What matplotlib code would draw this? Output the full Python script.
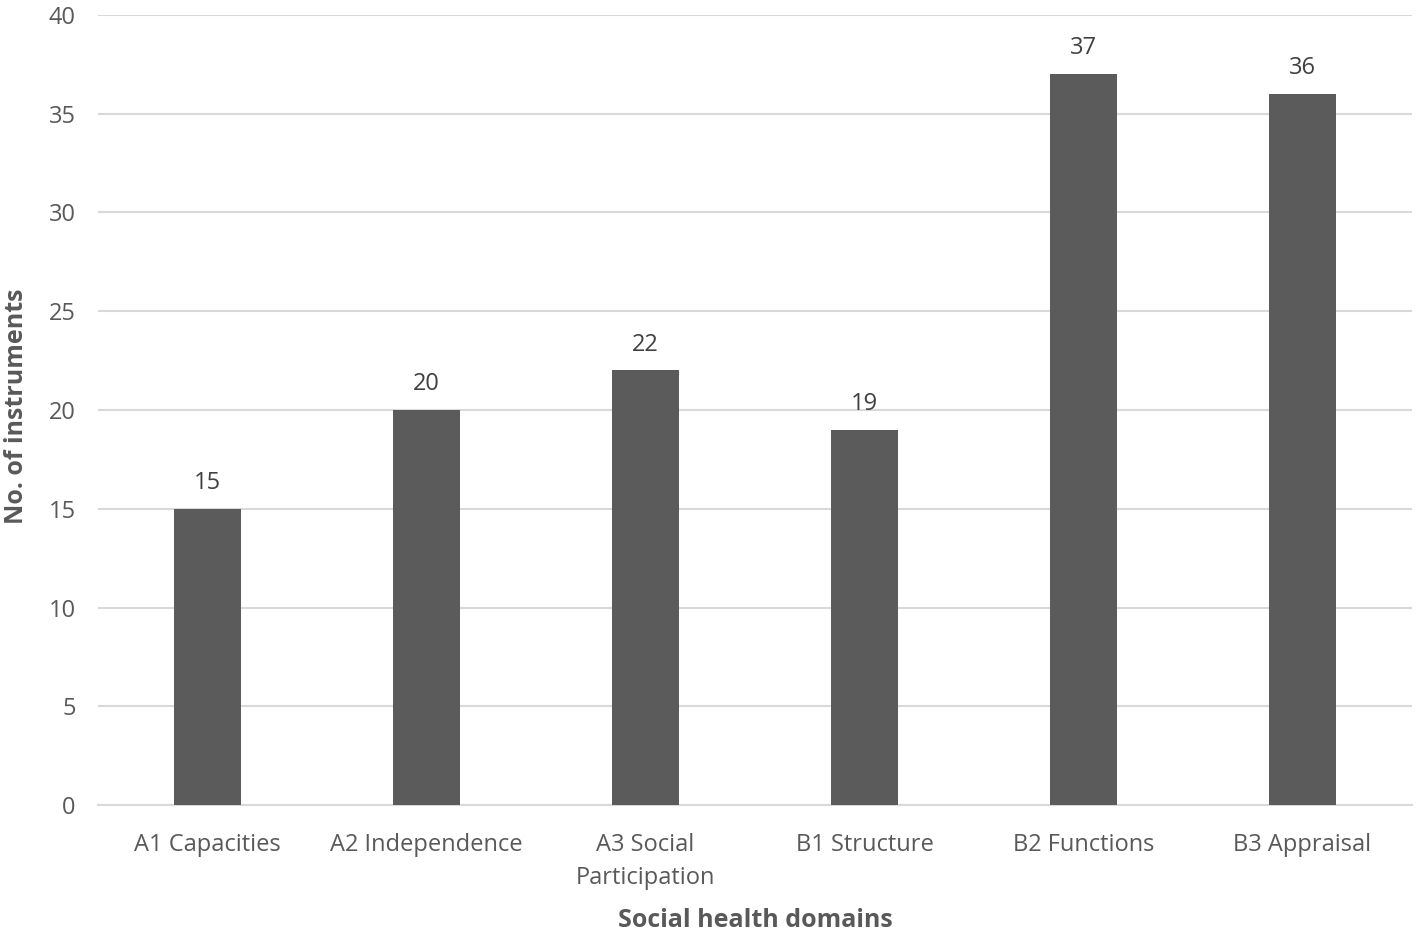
import matplotlib.pyplot as plt

categories = ['A1 Capacities', 'A2 Independence', 'A3 Social\nParticipation',
              'B1 Structure', 'B2 Functions', 'B3 Appraisal']
counts = [15, 20, 22, 19, 37, 36]
y_ticks = [0, 5, 10, 15, 20, 25, 30, 35, 40]

TEXT = '#595959'
BAR = '#5b5b5b'
GRID = '#d9d9d9'

plt.rcParams['font.family'] = ['Open Sans', 'DejaVu Sans']

fig = plt.figure(figsize=(14.17, 9.35), dpi=100)
ax = fig.add_axes([0.0692, 0.139, 0.9273, 0.845])

x = range(len(categories))
bars = ax.bar(x, counts, width=0.31, color=BAR, zorder=3)
for rect, v in zip(bars, counts):
    ax.annotate(str(v), (rect.get_x() + rect.get_width() / 2, v),
                xytext=(0, 10), textcoords='offset points',
                ha='center', va='bottom', fontsize=17, color='#404040')

ax.set_xlim(-0.5, len(categories) - 0.5)
ax.set_ylim(0, 40)
ax.set_yticks(y_ticks)
ax.yaxis.grid(True, color=GRID, linewidth=1.5, zorder=0)
ax.set_xticks(list(x))
ax.set_xticklabels(categories, fontsize=17, color=TEXT, linespacing=1.5)
ax.tick_params(axis='y', labelsize=17, labelcolor=TEXT, length=0, pad=16)
ax.tick_params(axis='x', length=0, pad=20)

for side in ['top', 'right', 'left']:
    ax.spines[side].set_visible(False)
ax.spines['bottom'].set_color(GRID)
ax.spines['bottom'].set_linewidth(1.5)

ax.set_xlabel('Social health domains', fontsize=18, fontweight='bold',
              color=TEXT, labelpad=13)
ax.set_ylabel('No. of instruments', fontsize=18, fontweight='bold',
              color=TEXT)
ax.yaxis.set_label_coords(-0.0525, 0.505)

fig.savefig('out.png', dpi=100)
